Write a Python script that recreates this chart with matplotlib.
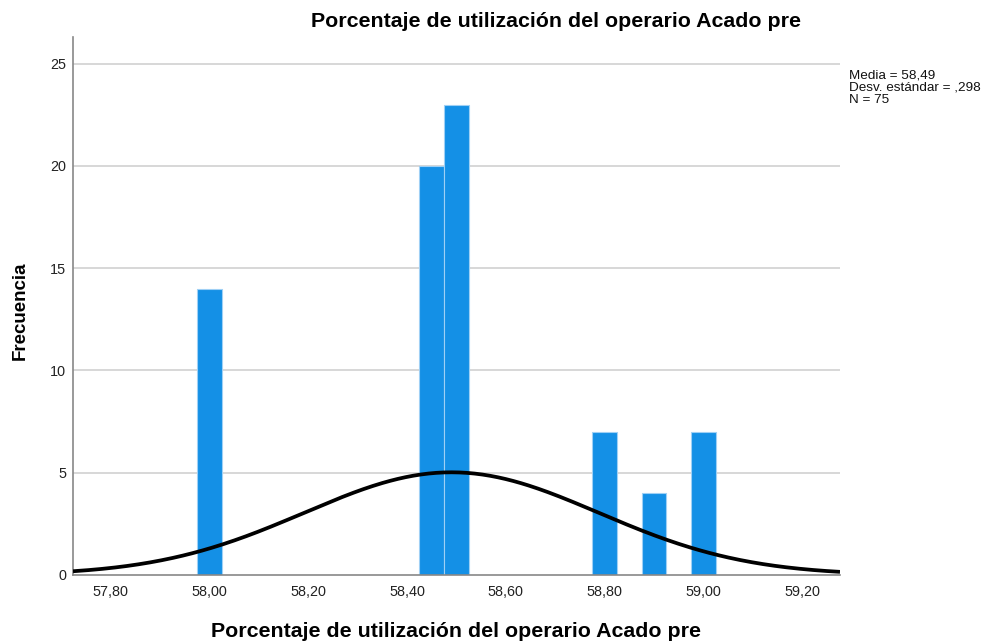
import numpy as np
import matplotlib
matplotlib.use("Agg")
import matplotlib.pyplot as plt
from matplotlib.ticker import FixedLocator, FuncFormatter

plt.rcParams['font.family'] = ['Liberation Sans', 'DejaVu Sans']

# Histogram bins (centres) and frequencies
bin_centers = [58.00, 58.45, 58.50, 58.80, 58.90, 59.00]
counts = [14, 20, 23, 7, 4, 7]
bin_width = 0.05

# Summary statistics shown in the side note
mean = 58.49
std = 0.298
n = 75

x_ticks = [57.80, 58.00, 58.20, 58.40, 58.60, 58.80, 59.00, 59.20]
y_ticks = [0, 5, 10, 15, 20, 25]

title = "Porcentaje de utilización del operario Acado pre"

W, H = 998, 644
fig = plt.figure(figsize=(W / 100, H / 100), dpi=100)
ax = fig.add_axes([73 / W, 1 - 575 / H, (840 - 73) / W, (575 - 37) / H])

x_lo, x_hi = 57.7235, 59.277
ax.set_xlim(x_lo, x_hi)
ax.set_ylim(0, 26.3)

for yv in y_ticks[1:]:
    ax.axhline(yv, color='#d4d4d4', lw=1.3, zorder=0)

ax.bar(bin_centers, counts, width=bin_width, color='#1490e6',
       edgecolor='#9fd0f5', linewidth=0.8, zorder=2)

# Normal curve scaled to the histogram
xs = np.linspace(x_lo, x_hi, 400)
pdf = np.exp(-0.5 * ((xs - mean) / std) ** 2) / (std * np.sqrt(2 * np.pi))
ax.plot(xs, n * bin_width * pdf, color='black', lw=2.7, zorder=3,
        solid_capstyle='butt')

ax.xaxis.set_major_locator(FixedLocator(x_ticks))
ax.yaxis.set_major_locator(FixedLocator(y_ticks))
ax.xaxis.set_major_formatter(FuncFormatter(lambda v, p: f"{v:.2f}".replace('.', ',')))
ax.yaxis.set_major_formatter(FuncFormatter(lambda v, p: f"{int(round(v))}"))
ax.tick_params(axis='both', length=0, labelsize=10.4, colors='#222222')
ax.tick_params(axis='x', pad=7.5)
ax.tick_params(axis='y', pad=5)

for s in ['top', 'right']:
    ax.spines[s].set_visible(False)
for s in ['left', 'bottom']:
    ax.spines[s].set_color('#888888')
    ax.spines[s].set_linewidth(1.2)

fig.text(556 / W, 1 - 27 / H, title, ha='center', va='baseline',
         fontsize=15.4, fontweight='bold')
fig.text(456 / W, 1 - 637 / H, title, ha='center', va='baseline',
         fontsize=15.4, fontweight='bold')
fig.text(20.5 / W, 1 - 311 / H, "Frecuencia", ha='center', va='center',
         rotation=90, fontsize=13.5, fontweight='bold')

note_lines = [f"Media = {mean:.2f}".replace('.', ','),
              f"Desv. estándar = {std:.3f}".replace('0.', ','),
              f"N = {n}"]
for i, line in enumerate(note_lines):
    fig.text(849 / W, 1 - (78 + 12.5 * i) / H, line, ha='left',
             va='baseline', fontsize=9.7, color='#111111')

fig.savefig("out.png", dpi=100)
